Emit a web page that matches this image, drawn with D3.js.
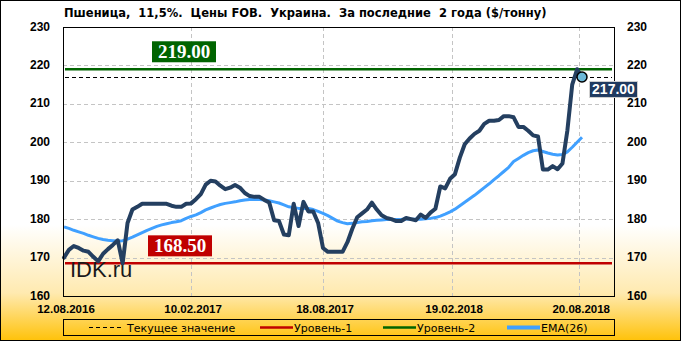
<!DOCTYPE html>
<html>
<head>
<meta charset="utf-8">
<script src="https://d3js.org/d3.v7.min.js"></script>
<style>
  body { margin: 0; background: #fff; }
  svg { display: block; }
</style>
</head>
<body>
<div id="chart"></div>
<script>
// data, one value per week (12.08.2016 .. 24.08.2018)
var startDate = "12.08.2016";
var tickLabels = ["12.08.2016", "10.02.2017", "18.08.2017", "19.02.2018", "20.08.2018"];
var yTicks = [160, 170, 180, 190, 200, 210, 220, 230];

var price = [
  170, 172, 173, 172.5, 171.8, 171.5, 170.2, 169, 171, 172.2,
  173.3, 174.5, 168.5, 179, 182.5, 183.2, 184, 184, 184, 184,
  184, 184, 183.5, 183.2, 183.2, 184, 184.1, 185.2, 186.5, 189,
  190, 189.8, 188.7, 187.8, 188.2, 188.9, 188.2, 186.8, 186, 185.8,
  185.8, 185, 184.3, 179.7, 179.5, 176, 175.8, 184, 178.2, 184.5,
  182, 182, 179, 172.5, 171.5, 171.5, 171.5, 171.5, 174, 177.5,
  180.5, 181.5, 182.5, 184.3, 182.5, 181, 180.3, 180, 179.5, 179.5,
  180.3, 180, 179.7, 181.2, 180.3, 181.7, 182.7, 188.5, 188, 190.5,
  191.7, 196, 199.5, 201, 202.2, 203, 204.8, 205.6, 205.6, 205.8,
  206.8, 206.8, 206.5, 204, 204, 203, 201.8, 201.5, 192.9, 192.9,
  193.8, 193, 194.5, 203, 215, 219, 217
];

var ema = [
  178, 177.6, 177.1, 176.7, 176.3, 175.8, 175.4, 175, 174.7, 174.5,
  174.4, 174.3, 174.4, 174.8, 175.3, 175.9, 176.5, 177.1, 177.6, 178.1,
  178.5, 178.8, 179.1, 179.3, 179.6, 180.2, 180.7, 181.1, 181.7, 182.4,
  182.9, 183.4, 183.8, 184.1, 184.3, 184.5, 184.8, 185, 185.1, 185.1,
  185.1, 185, 184.8, 184.5, 184.2, 183.7, 183.2, 183, 182.8, 182.8,
  182.8, 182.5, 182, 181.5, 180.9, 180.2, 179.5, 179.1, 178.8, 178.9,
  179.1, 179.3, 179.4, 179.6, 179.7, 179.8, 179.9, 179.9, 179.9, 179.9,
  180.1, 180, 180, 180, 180.1, 180.2, 180.4, 180.8, 181.3, 181.9,
  182.6, 183.5, 184.4, 185.3, 186.2, 187.2, 188.2, 189.2, 190.3, 191.3,
  192.4, 193.5, 195, 195.8, 196.6, 197.3, 197.8, 198, 197.6, 197.2,
  196.9, 196.7, 196.8, 197.5, 198.7, 200, 201.3
];

var level1 = 168.5;
var level2 = 219;
var current = 217;

var legendItems = [
  { label: "Текущее значение", key: "current" },
  { label: "Уровень-1", key: "level1" },
  { label: "Уровень-2", key: "level2" },
  { label: "EMA(26)", key: "ema" }
];

var W = 681, H = 341;
var margin = { top: 27, right: 67, bottom: 45, left: 63 };
var parse = d3.timeParse("%d.%m.%Y");
var t0 = parse(startDate);
var dates = price.map(function (d, i) { return d3.timeDay.offset(t0, 7 * i); });

var svg = d3.select("#chart").append("svg")
  .attr("width", W).attr("height", H);

var defs = svg.append("defs");
var grad = defs.append("linearGradient").attr("id", "bg")
  .attr("x1", 0).attr("y1", 0).attr("x2", 0).attr("y2", 1);
grad.append("stop").attr("offset", "0.66").attr("stop-color", "#ffffff");
grad.append("stop").attr("offset", "0.86").attr("stop-color", "#ffeab0");
grad.append("stop").attr("offset", "1").attr("stop-color", "#ffc20a");

svg.append("rect").attr("x", 0.5).attr("y", 0.5)
  .attr("width", W - 1).attr("height", H - 1)
  .attr("fill", "url(#bg)").attr("stroke", "#000");

var x0 = margin.left, x1 = W - margin.right;   // 63 .. 614
var yTop = margin.top, yBot = H - margin.bottom; // 27 .. 296

var x = d3.scaleTime()
  .domain([t0, dates[dates.length - 1]])
  .range([x0 + 1, 582]);
var y = d3.scaleLinear().domain([160, 230]).range([yBot, yTop]);

var tickDates = tickLabels.map(parse);

// grid
var grid = svg.append("g");
grid.selectAll(".hg").data(yTicks.slice(1, -1)).enter().append("line")
  .attr("x1", x0).attr("x2", x1)
  .attr("y1", function (d) { return Math.round(y(d)) + 0.5; })
  .attr("y2", function (d) { return Math.round(y(d)) + 0.5; })
  .attr("stroke", "#c4c4c4").attr("stroke-dasharray", "4,3");
grid.selectAll(".vg").data(tickDates.slice(1)).enter().append("line")
  .attr("x1", function (d) { return Math.round(x(d)) + 0.5; })
  .attr("x2", function (d) { return Math.round(x(d)) + 0.5; })
  .attr("y1", yTop).attr("y2", yBot)
  .attr("stroke", "#c4c4c4").attr("stroke-dasharray", "4,3");

// level lines
svg.append("line").attr("x1", x0 + 2).attr("x2", x1 - 2)
  .attr("y1", y(level2)).attr("y2", y(level2))
  .attr("stroke", "#006400").attr("stroke-width", 2.5);
svg.append("line").attr("x1", x0 + 2).attr("x2", x1 - 2)
  .attr("y1", y(level1)).attr("y2", y(level1))
  .attr("stroke", "#c00000").attr("stroke-width", 2.5);
svg.append("line").attr("x1", x0 + 2).attr("x2", x1 - 2)
  .attr("y1", Math.round(y(current)) + 0.5).attr("y2", Math.round(y(current)) + 0.5)
  .attr("stroke", "#000").attr("stroke-dasharray", "4,3");

// watermark
svg.append("text").attr("x", 70).attr("y", 277)
  .attr("font-family", "Liberation Sans, Arial, sans-serif")
  .attr("font-size", 22).attr("fill", "#1a1a1a").text("IDK.ru");

// lines
var line = function (vals) {
  return d3.line()
    .x(function (d, i) { return x(dates[i]); })
    .y(function (d) { return y(d); })(vals);
};
svg.append("path").attr("d", line(ema))
  .attr("fill", "none").attr("stroke", "#40a0ff").attr("stroke-width", 3)
  .attr("stroke-linejoin", "round");
svg.append("path").attr("d", line(price))
  .attr("fill", "none").attr("stroke", "#243f60").attr("stroke-width", 4)
  .attr("stroke-linejoin", "round").attr("stroke-linecap", "round");

// plot frame
svg.append("rect").attr("x", x0 + 0.5).attr("y", yTop + 0.5)
  .attr("width", x1 - x0).attr("height", yBot - yTop)
  .attr("fill", "none").attr("stroke", "#000");

// level labels
function levelLabel(val, cx, fill) {
  var h = 21, yb = y(val) - 7;
  var g = svg.append("g");
  g.append("rect").attr("x", cx - 32).attr("y", yb - h)
    .attr("width", 64).attr("height", h).attr("fill", fill);
  g.append("text").attr("x", cx).attr("y", yb - 4)
    .attr("text-anchor", "middle")
    .attr("font-family", "Liberation Serif, Times New Roman, serif")
    .attr("font-weight", "bold").attr("font-size", 19)
    .attr("fill", "#fff").text(val.toFixed(2));
}
levelLabel(level2, 184, "#006400");
levelLabel(level1, 180, "#c00000");

// current value marker and label
var last = dates.length - 1;
svg.append("circle").attr("cx", x(dates[last])).attr("cy", y(price[last]))
  .attr("r", 5).attr("fill", "#6cb8d8").attr("stroke", "#000").attr("stroke-width", 1.5);
svg.append("rect").attr("x", 589.5).attr("y", y(current) + 4.5)
  .attr("width", 48).attr("height", 16)
  .attr("fill", "#1f3a60").attr("stroke", "#d0d0d0");
svg.append("text").attr("x", 613.5).attr("y", y(current) + 17.5)
  .attr("text-anchor", "middle")
  .attr("font-family", "Liberation Sans, Arial, sans-serif")
  .attr("font-weight", "bold").attr("font-size", 14)
  .attr("fill", "#fff").text(current.toFixed(2));

// axes labels
var axFont = "Liberation Sans, Arial, sans-serif";
svg.append("g").selectAll("text").data(yTicks).enter().append("text")
  .attr("x", 50).attr("y", function (d) { return y(d) + 3.5; })
  .attr("text-anchor", "end").attr("font-family", axFont)
  .attr("font-weight", "bold").attr("font-size", 12).text(function (d) { return d; });
svg.append("g").selectAll("text").data(yTicks).enter().append("text")
  .attr("x", 627).attr("y", function (d) { return y(d) + 3.5; })
  .attr("font-family", axFont)
  .attr("font-weight", "bold").attr("font-size", 12).text(function (d) { return d; });
svg.append("g").selectAll("text").data(tickLabels).enter().append("text")
  .attr("x", function (d) { return x(parse(d)) + 2; }).attr("y", 313)
  .attr("text-anchor", "middle").attr("font-family", axFont)
  .attr("font-weight", "bold").attr("font-size", 11.5).text(function (d) { return d; });

// title
svg.append("text").attr("x", 64).attr("y", 17)
  .attr("font-family", "DejaVu Sans, Verdana, sans-serif")
  .attr("font-weight", "bold").attr("font-size", 11.5)
  .attr("xml:space", "preserve")
  .text("Пшеница,  11,5%.  Цены FOB.  Украина.  За последние  2 года ($/тонну)");

// legend
var lg = svg.append("g");
lg.append("rect").attr("x", x0 + 0.5).attr("y", 319.5)
  .attr("width", x1 - x0).attr("height", 16)
  .attr("fill", "none").attr("stroke", "#000");
var ly = 327.5;
var lx = [89, 260, 383, 507];
var styles = {
  current: { stroke: "#000", width: 1, dash: "4,3" },
  level1: { stroke: "#c00000", width: 2.5, dash: null },
  level2: { stroke: "#006400", width: 2.5, dash: null },
  ema: { stroke: "#40a0ff", width: 4, dash: null }
};
legendItems.forEach(function (it, i) {
  var s = styles[it.key];
  lg.append("line").attr("x1", lx[i]).attr("x2", lx[i] + 33)
    .attr("y1", ly).attr("y2", ly)
    .attr("stroke", s.stroke).attr("stroke-width", s.width)
    .attr("stroke-dasharray", s.dash);
  lg.append("text").attr("x", lx[i] + (i === 0 ? 38 : 34)).attr("y", ly + 4)
    .attr("font-family", "DejaVu Sans, Verdana, sans-serif")
    .attr("font-size", 11).text(it.label);
});
</script>
</body>
</html>
